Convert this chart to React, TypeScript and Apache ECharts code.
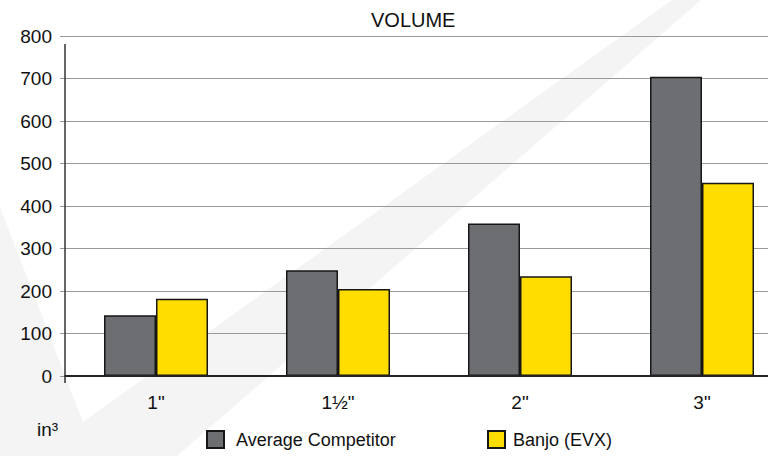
import React, { useEffect, useRef } from "react";
import * as echarts from "echarts";

const categories = ['1"', '1½"', '2"', '3"'];
const competitorValues = [143, 249, 359, 704];
const banjoValues = [182, 205, 235, 455];
const seriesNames = ["Average Competitor", "Banjo (EVX)"];
const yTicks = { min: 0, max: 800, interval: 100 };
const titleText = "VOLUME";
const unitText = "in³";

const FONT = "'Liberation Sans', Arial, Helvetica, sans-serif";

export default function App() {
  const ref = useRef<HTMLDivElement>(null);
  useEffect(() => {
    if (!ref.current) return;
    const chart = echarts.init(ref.current, undefined, { renderer: "svg" });
    const barBorder = { borderColor: "#161616", borderWidth: 1.5 };
    chart.setOption({
      animation: false,
      backgroundColor: "#ffffff",
      textStyle: { fontFamily: FONT },
      title: {
        text: titleText,
        left: 366,
        top: 5,
        textStyle: { fontFamily: FONT, fontSize: 20, fontWeight: "normal", color: "#111" },
      },
      legend: [
        {
          data: [seriesNames[0]],
          left: 206,
          top: 430,
          padding: 0,
          itemWidth: 17,
          itemHeight: 17,
          icon: "rect",
          textStyle: { fontFamily: FONT, fontSize: 18, color: "#111", padding: [0, 0, 0, 7] },
        },
        {
          data: [seriesNames[1]],
          left: 487,
          top: 430,
          padding: 0,
          itemWidth: 17,
          itemHeight: 17,
          icon: "rect",
          textStyle: { fontFamily: FONT, fontSize: 18, color: "#111", padding: [0, 0, 0, 3] },
        },
      ],
      grid: { left: 65, right: 7, top: 36, bottom: 80, containLabel: false },
      xAxis: {
        type: "category",
        data: categories,
        axisLine: { show: true, lineStyle: { color: "#222", width: 2 } },
        axisTick: { show: false },
        axisLabel: { fontFamily: FONT, fontSize: 19, color: "#111", margin: 17 },
        splitLine: { show: false },
        z: 5,
      },
      yAxis: {
        type: "value",
        min: yTicks.min,
        max: yTicks.max,
        interval: yTicks.interval,
        axisLine: { show: false },
        axisTick: { show: true, length: 5, lineStyle: { color: "#999", width: 1 } },
        axisLabel: { fontFamily: FONT, fontSize: 19, color: "#111", margin: 13 },
        splitLine: { show: true, lineStyle: { color: "#9a9a9a", width: 1.2 } },
      },
      graphic: [
        {
          type: "polygon",
          z: -10,
          silent: true,
          shape: {
            points: [
              [0, 207],
              [83, 422],
              [672, 0],
              [701, 0],
              [177, 456],
              [0, 456],
            ],
          },
          style: { fill: "#f4f4f4" },
        },
        {
          type: "line",
          z: 10,
          silent: true,
          shape: { x1: 65, y1: 44, x2: 65, y2: 383 },
          style: { stroke: "#333", lineWidth: 1.5 },
        },
        {
          type: "text",
          z: 10,
          x: 37,
          y: 420,
          style: { text: unitText, fontFamily: FONT, fontSize: 19, fill: "#111" },
        },
      ],
      series: [
        {
          name: seriesNames[0],
          type: "bar",
          data: competitorValues,
          barWidth: 52,
          barGap: "0%",
          itemStyle: { color: "#6d6e71", ...barBorder },
          z: 3,
        },
        {
          name: seriesNames[1],
          type: "bar",
          data: banjoValues,
          barWidth: 52,
          barGap: "0%",
          itemStyle: { color: "#ffdd00", ...barBorder },
          z: 3,
        },
      ],
    });
    return () => chart.dispose();
  }, []);
  return (
    <div style={{ position: "absolute", left: 0, top: 0, width: 768, height: 456, overflow: "hidden" }}>
      <div ref={ref} style={{ width: 800, height: 456 }} />
    </div>
  );
}
